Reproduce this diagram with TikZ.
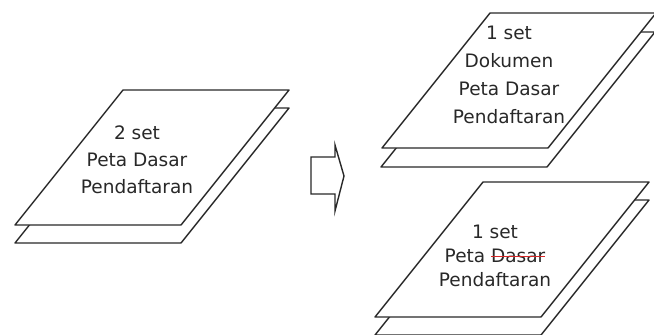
\documentclass[tikz,border=0pt]{standalone}
\usepackage{fontspec}
\setmainfont{DejaVu Sans}
\usetikzlibrary{positioning}
\definecolor{ink}{RGB}{40,40,40}
\definecolor{strike}{RGB}{215,40,40}
\newsavebox\strikebox
\newcommand\redsout[1]{\sbox\strikebox{#1}\rlap{#1}\textcolor{strike}{\rule[0.55ex]{\wd\strikebox}{1.2pt}}}
\tikzset{
  % one sheet of paper, lying flat
  pics/sheet/.style={code={
    \draw[ink,line width=1.4pt,line join=round,fill=white]
      (0,0) -- (166,0) -- (274,-135) -- (108,-135) -- cycle;
  }},
  sheettext/.style={text=ink,align=center,font=\fontsize{18.5}{#1}\selectfont,inner sep=0pt},
  sheettext/.default=27,
  block/.style={draw=ink,line width=1.4pt,line join=miter,fill=white},
}
\begin{document}
\begin{tikzpicture}[x=1pt,y=-1pt]
  \useasboundingbox (0,0) rectangle (654,335);
  \clip (0,0) rectangle (654,335);
  % left stack
  \pic at (15,243) {sheet};
  \pic at (15,225) {sheet};
  \node[sheettext] (two) at (137,160) {2 set\\Peta Dasar\\Pendaftaran};
  % arrow
  \draw[block] (311,157) -- (335,157) -- (335,145) -- (344,176) -- (335,211)
    -- (335,194) -- (311,194) -- cycle;
  % right, upper stack
  \pic at (381,167) {sheet};
  \pic at (382,148) {sheet};
  \node[sheettext=28] (doc) at (509,75) {1 set\\Dokumen\\Peta Dasar\\Pendaftaran};
  % right, lower stack
  \pic at (375,335) {sheet};
  \pic at (375,317) {sheet};
  \node[sheettext=24] (map) at (495,256) {1 set\\Peta \redsout{Dasar}\\Pendaftaran};
\end{tikzpicture}
\end{document}
